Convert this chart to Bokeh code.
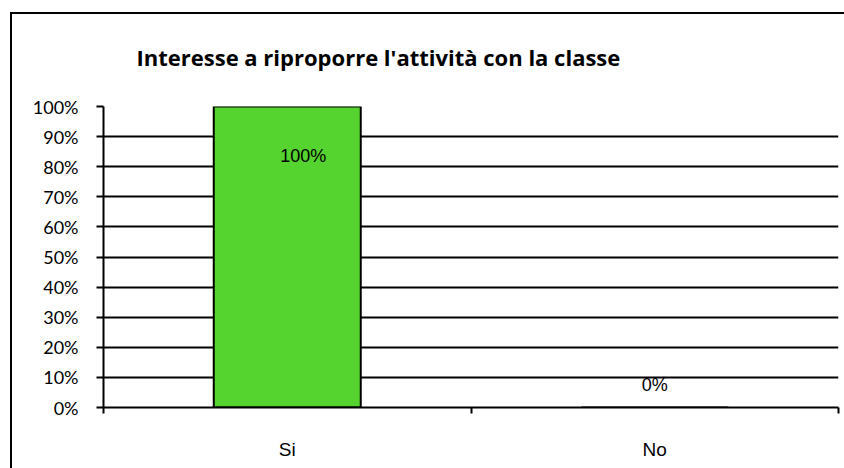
from bokeh.plotting import figure
from bokeh.models import (ColumnDataSource, FixedTicker, NumeralTickFormatter, Range1d,
                          Title, InlineStyleSheet)
from bokeh.core.properties import value
from bokeh.embed import file_html
from bokeh.resources import INLINE

title_text = "Interesse a riproporre l'attività con la classe"
categories = ["Si", "No"]
shares = [1.00, 0.00]
share_labels = ["100%", "0%"]
y_ticks = [0.0, 0.1, 0.2, 0.3, 0.4, 0.5, 0.6, 0.7, 0.8, 0.9, 1.0]

xs = [i + 0.5 for i in range(len(categories))]
src = ColumnDataSource(dict(x=xs, top=shares, lab=share_labels,
                            xo=[16, 0], yo=[49, -23]))

p = figure(width=844, height=468, output_backend="svg", toolbar_location=None,
           x_range=Range1d(0, len(categories)), y_range=Range1d(0, 1),
           min_border_left=103, min_border_right=6, min_border_top=106, min_border_bottom=61)
p.outline_line_color = None
p.background_fill_color = "white"
p.border_fill_color = "white"

t = Title(text=title_text, align="left", offset=33, standoff=70,
          text_font="Open Sans", text_font_size="22px", text_font_style="bold", text_color="black")
p.add_layout(t, "above")

p.vbar(x="x", top="top", width=0.4, bottom=0, source=src,
       fill_color="#55D42F", line_color="black", line_width=2)
p.text(x="x", y="top", text="lab", x_offset="xo", y_offset="yo", source=src,
       text_align="center", text_baseline="middle",
       text_font=value("Liberation Sans"), text_font_size="18px", text_color="black")

# grid
p.xgrid.visible = False
p.ygrid.ticker = FixedTicker(ticks=y_ticks)
p.ygrid.grid_line_color = "black"
p.ygrid.grid_line_width = 2

# y axis
ya = p.yaxis[0]
ya.ticker = FixedTicker(ticks=y_ticks)
ya.formatter = NumeralTickFormatter(format="0%")
ya.axis_line_color = "black"
ya.axis_line_width = 2
ya.major_tick_line_color = "black"
ya.major_tick_line_width = 2
ya.major_tick_out = 7
ya.major_tick_in = 0
ya.minor_tick_line_color = None
ya.major_label_standoff = 18
ya.major_label_text_font = "Lato"
ya.major_label_text_font_size = "18px"
ya.major_label_text_color = "black"

# x axis
xa = p.xaxis[0]
xa.ticker = FixedTicker(ticks=xs, minor_ticks=list(range(len(categories) + 1)))
xa.major_label_overrides = {x: c for x, c in zip(xs, categories)}
xa.axis_line_color = "black"
xa.axis_line_width = 2
xa.major_tick_line_color = None
xa.minor_tick_line_color = "black"
xa.minor_tick_line_width = 2
xa.minor_tick_out = 6
xa.minor_tick_in = 0
xa.major_label_standoff = 25
xa.major_label_text_font = "Liberation Sans"
xa.major_label_text_font_size = "19px"
xa.major_label_text_color = "black"

# chart-area border (left and top edges visible in the reference)
p.stylesheets = [InlineStyleSheet(css="""
:host { position: relative; }
:host::after { content: ''; position: absolute; left: 10px; top: 12px; right: 0; bottom: 0;
  border-left: 2px solid black; border-top: 2px solid black; pointer-events: none; }
""")]

open("out.html", "w").write(file_html(p, INLINE))
